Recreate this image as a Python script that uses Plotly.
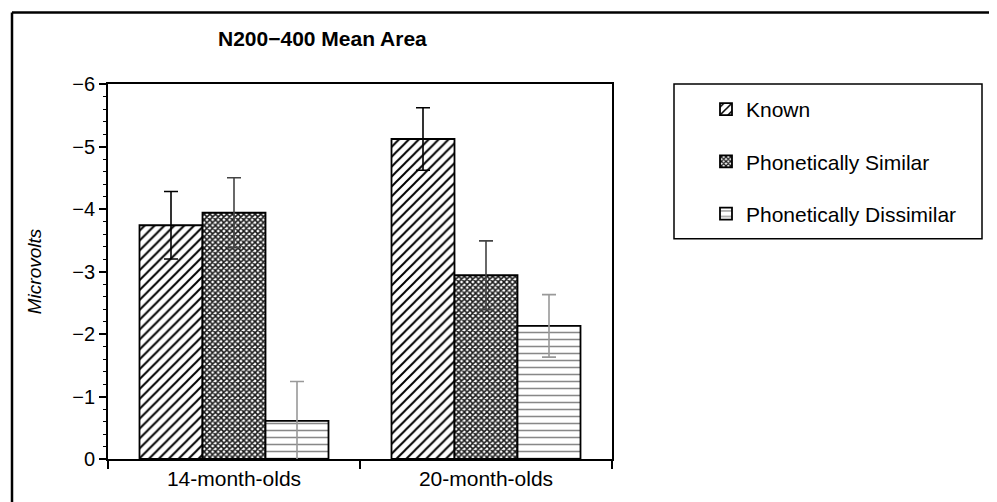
import plotly.graph_objects as go

groups = ["14-month-olds", "20-month-olds"]
series_names = ["Known", "Phonetically Similar", "Phonetically Dissimilar"]
known = [-3.74, -5.12]
known_err = [0.54, 0.50]
similar = [-3.94, -2.94]
similar_err = [0.56, 0.55]
dissimilar = [-0.61, -2.13]
dissimilar_err = [0.63, 0.50]
y_ticks = [0, -1, -2, -3, -4, -5, -6]

FONT = "Liberation Sans, Arial, sans-serif"

styles = [
    dict(shape="/", fg="black", size=7, sol=0.28, err="black"),
    dict(shape="x", fg="#1a1a1a", size=4, sol=0.62, err="#444444"),
    dict(shape="-", fg="#888888", size=7, sol=0.22, err="#999999"),
]
vals = [known, similar, dissimilar]
errs = [known_err, similar_err, dissimilar_err]

fig = go.Figure()
for name, v, e, s in zip(series_names, vals, errs, styles):
    fig.add_trace(go.Bar(
        x=groups, y=v, name=name, legendgroup=name,
        marker=dict(color="white",
                    line=dict(color="black", width=1.8),
                    pattern=dict(shape=s["shape"], fgcolor=s["fg"], bgcolor="white",
                                 size=s["size"], solidity=s["sol"], fillmode="replace")),
        error_y=dict(type="data", array=e, color=s["err"], thickness=1.6, width=7),
    ))

# the page body has an 8px margin, so figure coords = screen coords - 8
OFF = 8
W, H = 997 - OFF, 502 - OFF
L, R, T, B = 108 - OFF, 612 - OFF, 84 - OFF, 462 - OFF
pw, ph = R - L, B - T

def px(xs):
    return (xs - OFF - L) / pw

def py(ys):
    return (B - (ys - OFF)) / ph

fig.update_layout(
    width=W, height=H,
    margin=dict(l=L, r=W - R, t=T, b=H - B, pad=0),
    paper_bgcolor="white", plot_bgcolor="white",
    font=dict(family=FONT, size=20, color="black"),
    barmode="group", bargap=0.25, bargroupgap=0,
    title=dict(text="<b>N200\u2212400 Mean Area</b>", font=dict(size=21, family=FONT),
               xref="container", yref="container", x=(218 - OFF) / W, xanchor="left",
               y=1 - (39 - OFF) / H, yanchor="middle"),
    showlegend=True,
    legend=dict(x=px(706), y=py(89), xanchor="left", yanchor="top",
                font=dict(size=21, family=FONT), traceorder="grouped",
                tracegroupgap=22, bgcolor="rgba(0,0,0,0)", borderwidth=0),
    xaxis=dict(type="category", tickson="boundaries", ticks="outside", ticklen=8,
               tickwidth=1.8, tickcolor="black", showline=True, linecolor="black",
               linewidth=1.8, mirror=True, showgrid=False,
               tickfont=dict(size=21, family=FONT)),
    yaxis=dict(range=[0, -6], tickvals=y_ticks, ticks="outside", ticklen=7,
               tickwidth=1.5, tickcolor="black", showline=True, linecolor="black",
               linewidth=1.8, mirror=True, showgrid=False, zeroline=False,
               tickfont=dict(size=20, family=FONT),
               minor=dict(dtick=0.2, ticks="outside", ticklen=3, tickcolor="black",
                          tickwidth=1, showgrid=False),
               title=dict(text="<i>Microvolts</i>", font=dict(size=19, family=FONT),
                          standoff=26)),
    shapes=[
        dict(type="rect", xref="paper", yref="paper", x0=px(674), x1=px(982),
             y0=py(84), y1=py(240), line=dict(color="black", width=1.5)),
        dict(type="line", xref="paper", yref="paper", x0=px(12), x1=px(992),
             y0=py(12), y1=py(12), line=dict(color="black", width=2.5)),
        dict(type="line", xref="paper", yref="paper", x0=px(12), x1=px(12),
             y0=py(12), y1=py(510), line=dict(color="black", width=2.5)),
    ],
)

fig.write_html("out.html")
